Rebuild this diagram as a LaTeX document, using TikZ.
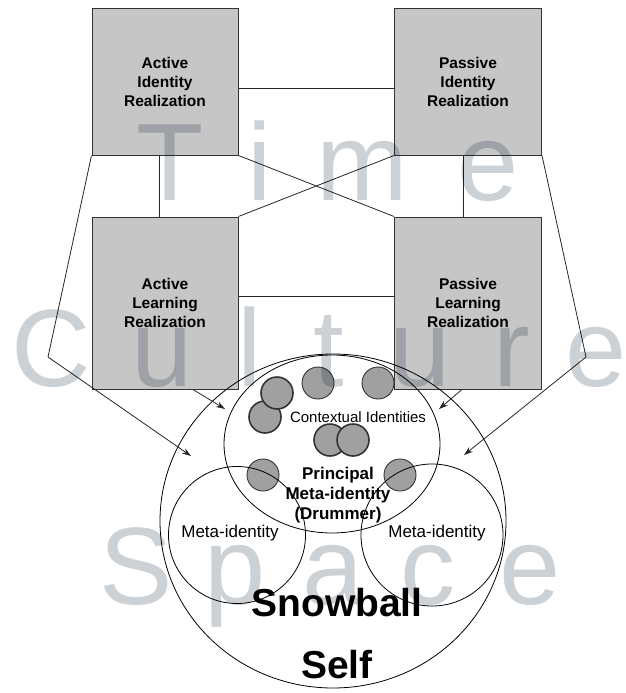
\documentclass[tikz,border=0pt]{standalone}
\usepackage{fontspec}
\setmainfont{Liberation Sans}
\usetikzlibrary{arrows.meta, positioning, shapes.geometric}

\definecolor{boxgray}{RGB}{198,198,198}
\definecolor{dotgray}{RGB}{160,160,160}
\definecolor{markgray}{RGB}{204,209,214}

\begin{document}
\begin{tikzpicture}[x=1pt, y=-1pt,
  realbox/.style={draw=black!80, line width=1pt, fill=boxgray, align=center,
    font=\bfseries\fontsize{15.5}{19}\selectfont},
  link/.style={line width=0.8pt, black!85},
  arr/.style={link, -{Stealth[length=9pt, width=6pt]}},
  ident/.style={circle, draw=black!80, line width=0.9pt, fill=dotgray, minimum size=32pt, inner sep=0pt},
  pairident/.style={ident, line width=1.6pt},
  ring/.style={draw, line width=0.8pt, inner sep=0pt},
  bigmark/.style={text=markgray, anchor=base, inner sep=0pt,
    font=\fontsize{110}{110}\selectfont}]

\useasboundingbox (0,0) rectangle (625,693);

% Draw realization boxes
\node[realbox, minimum width=146pt, minimum height=146pt] (air) at (165,82) {Active\\Identity\\Realization};
\node[realbox, minimum width=147pt, minimum height=146pt] (pir) at (468,82) {Passive\\Identity\\Realization};
\node[realbox, minimum width=146pt, minimum height=172pt] (alr) at (165,303) {Active\\Learning\\Realization};
\node[realbox, minimum width=147pt, minimum height=172pt] (plr) at (468,303) {Passive\\Learning\\Realization};

% Draw box links
\draw[link] ([yshift=-6pt]air.east) -- ([yshift=-6pt]pir.west);
\draw[link] ([yshift=7pt]alr.east) -- ([yshift=7pt]plr.west);
\draw[link] ([xshift=-6pt]air.south) -- ([xshift=-6pt]alr.north);
\draw[link] ([xshift=-5pt]pir.south) -- ([xshift=-5pt]plr.north);
\draw[link] (air.south east) -- (plr.north west);
\draw[link] (pir.south west) -- (alr.north east);

% Draw contextual identities
\node[pairident] (id2) at (265,417) {};
\node[pairident] (id1) at (277,393) {};
\node[ident] (id3) at (318,383) {};
\node[ident] (id4) at (378,383) {};
\node[pairident] (id5) at (330,440) {};
\node[pairident] (id6) at (353,440) {};
\node[ident] (id7) at (263,475) {};
\node[ident] (id8) at (400,475) {};

% Draw circle labels
\node[font=\fontsize{15}{18}\selectfont] (ctxlabel) at (358,417) {Contextual Identities};
\node[align=center, font=\bfseries\fontsize{17}{20}\selectfont] (pmilabel) at (338,495) {Principal\\Meta-identity\\(Drummer)};
\node[font=\fontsize{17}{20}\selectfont] (lmetalabel) at (230,533) {Meta-identity};
\node[font=\fontsize{17}{20}\selectfont] (rmetalabel) at (437,533) {Meta-identity};
\node[align=center, font=\bfseries\fontsize{39}{62}\selectfont] (selflabel) at (337,634) {Snowball\\Self};

% Draw snowball circles
\node[ellipse, ring, minimum width=346pt, minimum height=334pt] (self) at (333,521) {};
\node[circle, ring, minimum size=137pt] (lmeta) at (237,535) {};
\node[circle, ring, minimum size=142pt] (rmeta) at (432,535) {};
\node[ellipse, ring, minimum width=216pt, minimum height=178pt] (ctx) at (332,444) {};

% Draw arrows into the self
\coordinate (lbend) at (48,357);
\coordinate (rbend) at (586,357);
\coordinate (lend) at (191,456);
\coordinate (rend) at (464,455);
\coordinate (alrend) at (225,409);
\coordinate (plrend) at (439,409);
\draw[link] (air.south west) -- (lbend);
\draw[arr] (lbend) -- (lend);
\draw[link] (pir.south east) -- (rbend);
\draw[arr] (rbend) -- (rend);
\draw[arr] ([xshift=28pt]alr.south) -- (alrend);
\draw[arr] ([xshift=-6pt]plr.south) -- (plrend);

% Draw time, culture, space
\begin{scope}[blend mode=multiply]
\foreach \ch/\px in {T/170, i/260, m/362, e/488}
  \node[bigmark] at (\px,200) {\ch};
\foreach \ch/\px in {C/51, u/162, l/250, t/329, u/420, r/512, e/596}
  \node[bigmark] at (\px,386) {\ch};
\foreach \ch/\px in {S/136, p/235, a/333, c/428, e/530}
  \node[bigmark] at (\px,604) {\ch};
\end{scope}

\end{tikzpicture}
\end{document}
